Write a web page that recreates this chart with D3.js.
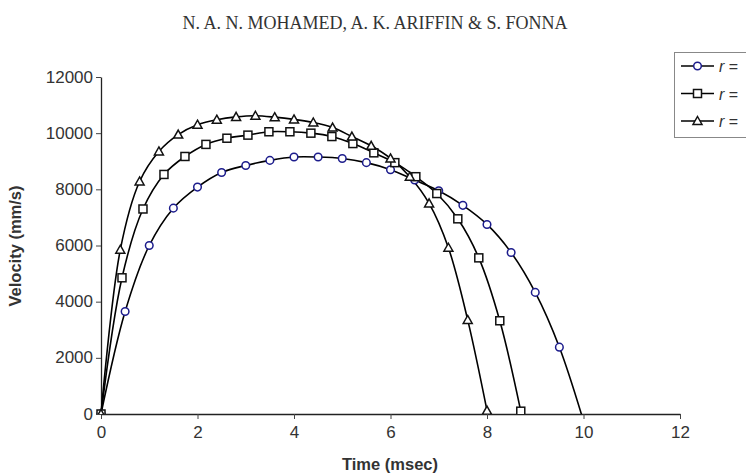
<!DOCTYPE html>
<html>
<head>
<meta charset="utf-8">
<script src="https://cdn.jsdelivr.net/npm/d3@7"></script>
<style>
  body { margin: 0; background: #fff; }
  svg { display: block; }
</style>
</head>
<body>
<div id="container"></div>
<script>
// time (msec) and velocity (mm/s) for each series
const timeCircle = [0, 0.5, 1.0, 1.5, 2.0, 2.5, 3.0, 3.5, 4.0, 4.5, 5.0, 5.5, 6.0, 6.5, 7.0, 7.5, 8.0, 8.5, 9.0, 9.5, 10.0];
const velCircle  = [0, 3650, 6000, 7330, 8080, 8600, 8850, 9030, 9150, 9150, 9100, 8950, 8700, 8330, 7950, 7430, 6750, 5750, 4330, 2380, -250];

const timeSquare = [0, 0.435, 0.87, 1.305, 1.74, 2.175, 2.61, 3.045, 3.48, 3.915, 4.35, 4.785, 5.22, 5.655, 6.09, 6.525, 6.96, 7.395, 7.83, 8.265, 8.7];
const velSquare  = [0, 4850, 7300, 8530, 9170, 9600, 9820, 9930, 10050, 10050, 10000, 9880, 9630, 9300, 8950, 8450, 7850, 6950, 5560, 3320, 100];

const timeTri = [0, 0.4, 0.8, 1.2, 1.6, 2.0, 2.4, 2.8, 3.2, 3.6, 4.0, 4.4, 4.8, 5.2, 5.6, 6.0, 6.4, 6.8, 7.2, 7.6, 8.0];
const velTri  = [0, 5850, 8280, 9350, 9950, 10300, 10480, 10580, 10620, 10570, 10490, 10380, 10200, 9880, 9550, 9100, 8450, 7500, 5920, 3350, 120];

const legendLabels = ["r =", "r =", "r ="];
const xTicks = [0, 2, 4, 6, 8, 10, 12];
const yTicks = [0, 2000, 4000, 6000, 8000, 10000, 12000];

const w = 746, h = 474;
const padLeft = 101, padRight = 680, padTop = 77, padBottom = 414;

const svg = d3.select("#container").append("svg")
    .attr("width", w).attr("height", h)
    .style("font-family", "'Liberation Sans', Arial, sans-serif");

const xScale = d3.scaleLinear().domain([0, 12]).range([padLeft, padRight]);
const yScale = d3.scaleLinear().domain([0, 12000]).range([padBottom, padTop]);

// header
svg.append("text")
   .attr("x", 375).attr("y", 29)
   .attr("text-anchor", "middle")
   .style("font-family", "'Liberation Serif', 'Times New Roman', serif")
   .style("font-size", "18px")
   .style("fill", "#333")
   .text("N. A. N. MOHAMED, A. K. ARIFFIN & S. FONNA");

// axes
const xAxis = d3.axisBottom(xScale).tickValues(xTicks).tickSize(5).tickSizeOuter(0);
const yAxis = d3.axisLeft(yScale).tickValues(yTicks).tickFormat(d3.format("d")).tickSize(5).tickSizeOuter(0);

const gx = svg.append("g").attr("transform", "translate(0," + padBottom + ")").call(xAxis);
const gy = svg.append("g").attr("transform", "translate(" + padLeft + ",0)").call(yAxis);

[gx, gy].forEach(function(g){
    g.select(".domain").attr("stroke", "#222").attr("stroke-width", 1.3);
    g.selectAll(".tick line").attr("stroke", "#444");
    g.selectAll(".tick text").style("font-size", "17px").style("fill", "#333")
     .style("font-family", "'Liberation Sans', Arial, sans-serif");
});
gx.selectAll(".tick text").attr("y", 10).attr("dy", "0.8em");
gy.selectAll(".tick text").attr("x", -8).attr("dy", "0.3em");

svg.append("text")
   .attr("x", 390).attr("y", 470)
   .attr("text-anchor", "middle")
   .style("font-size", "16.5px").style("font-weight", "bold").style("fill", "#333")
   .text("Time (msec)");

svg.append("text")
   .attr("transform", "translate(21,246) rotate(-90)")
   .attr("text-anchor", "middle")
   .style("font-size", "16.5px").style("font-weight", "bold").style("fill", "#333")
   .text("Velocity (mm/s)");

// clip plot to the axis range (the circle series runs just past zero)
svg.append("clipPath").attr("id", "plot-clip")
   .append("rect").attr("x", padLeft - 8).attr("y", padTop - 8)
   .attr("width", padRight - padLeft + 16).attr("height", padBottom - padTop + 8);

const series = [
    { t: timeCircle, v: velCircle, shape: "circle", color: "#1c1c8c" },
    { t: timeSquare, v: velSquare, shape: "square", color: "#111" },
    { t: timeTri,    v: velTri,    shape: "triangle", color: "#111" }
];

const line = d3.line()
    .x((d) => xScale(d[0]))
    .y((d) => yScale(d[1]))
    .curve(d3.curveCatmullRom.alpha(0.5));

const plot = svg.append("g").attr("clip-path", "url(#plot-clip)");

function drawMarker(g, shape, color, x, y) {
    if (shape === "circle") {
        g.append("circle").attr("cx", x).attr("cy", y).attr("r", 3.8)
         .attr("fill", "white").attr("stroke", color).attr("stroke-width", 1.5);
    } else if (shape === "square") {
        g.append("rect").attr("x", x - 4).attr("y", y - 4).attr("width", 8).attr("height", 8)
         .attr("fill", "white").attr("stroke", color).attr("stroke-width", 1.5);
    } else {
        g.append("path").attr("d", "M" + x + "," + (y - 4.5) + "L" + (x + 4.5) + "," + (y + 3.5) + "L" + (x - 4.5) + "," + (y + 3.5) + "Z")
         .attr("fill", "white").attr("stroke", color).attr("stroke-width", 1.5);
    }
}

series.forEach(function(s){
    const pts = s.t.map((t, i) => [t, s.v[i]]);
    plot.append("path").datum(pts)
        .attr("d", line)
        .attr("fill", "none")
        .attr("stroke", "#000")
        .attr("stroke-width", 1.6);
});
series.forEach(function(s){
    const g = plot.append("g");
    s.t.forEach(function(t, i){
        if (s.v[i] < 0) return;
        drawMarker(g, s.shape, s.color, xScale(t), yScale(s.v[i]));
    });
});

// legend
const lg = svg.append("g");
lg.append("rect").attr("x", 674.5).attr("y", 52.5).attr("width", 80).attr("height", 85)
  .attr("fill", "white").attr("stroke", "#888").attr("stroke-width", 1);
series.forEach(function(s, i){
    const yy = 66 + i * 27.5;
    lg.append("line").attr("x1", 681).attr("x2", 714).attr("y1", yy).attr("y2", yy)
      .attr("stroke", "#000").attr("stroke-width", 1.6);
    drawMarker(lg, s.shape, s.color, 697.5, yy);
    const txt = lg.append("text").attr("x", 719).attr("y", yy + 6)
      .style("font-size", "16px").style("fill", "#333");
    txt.append("tspan").style("font-style", "italic").text(legendLabels[i].slice(0, 1));
    txt.append("tspan").text(legendLabels[i].slice(1));
});
</script>
</body>
</html>
